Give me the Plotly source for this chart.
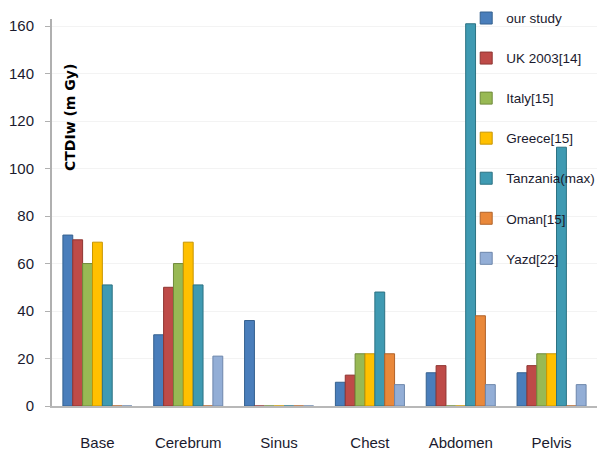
import plotly.graph_objects as go

categories = ["Base", "Cerebrum", "Sinus", "Chest", "Abdomen", "Pelvis"]

our_study = [72, 30, 36, 10, 14, 14]
uk_2003 = [70, 50, 0, 13, 17, 17]
italy = [60, 60, 0, 22, 0, 22]
greece = [69, 69, 0, 22, 0, 22]
tanzania_max = [51, 51, 0, 48, 161, 109]
oman = [0, 0, 0, 22, 38, 0]
yazd = [0, 21, 0, 9, 9, 9]

series = [
    ("our study", our_study, "#4A7EBB", "#35618f"),
    ("UK 2003[14]", uk_2003, "#BE4B48", "#8f3532"),
    ("Italy[15]", italy, "#98B954", "#6f8a3a"),
    ("Greece[15]", greece, "#FFC000", "#c79500"),
    ("Tanzania(max)", tanzania_max, "#3F9AB2", "#2c7283"),
    ("Oman[15]", oman, "#E9883A", "#b0632a"),
    ("Yazd[22]", yazd, "#93AED6", "#6d86ab"),
]

y_ticks = [0, 20, 40, 60, 80, 100, 120, 140, 160]

fig = go.Figure()
for i, (name, vals, color, edge) in enumerate(series):
    fig.add_trace(go.Bar(
        x=categories, y=vals, name=name,
        marker=dict(color=color, line=dict(color=edge, width=1)),
        legendgroup=f"g{i}",
    ))

fig.update_layout(
    width=600, height=453,
    margin=dict(l=52, r=3, t=19, b=47, autoexpand=False),
    paper_bgcolor="white", plot_bgcolor="white",
    barmode="group", bargap=0.24, bargroupgap=0,
    font=dict(family="Liberation Sans", size=14, color="#1a1a2e"),
    showlegend=True,
    legend=dict(
        x=0.76, y=1.042, xanchor="left", yanchor="top",
        bgcolor="rgba(0,0,0,0)", tracegroupgap=19.5, maxheight=440,
        font=dict(family="Liberation Sans", size=13.5, color="#1a1a2e"),
        itemwidth=30,
    ),
    xaxis=dict(
        showgrid=False, showline=True, linecolor="#b8b8b8", linewidth=2,
        ticks="", ticklabelstandoff=22,
        tickfont=dict(family="Liberation Sans", size=15, color="#1a1a2e"),
    ),
    yaxis=dict(
        range=[0, 163], tickvals=y_ticks, showgrid=True, gridcolor="#f3f3f3",
        showline=True, linecolor="#b0b0b0", linewidth=2,
        ticks="outside", ticklen=5, tickcolor="#b0b0b0", ticklabelstandoff=8,
        tickfont=dict(family="Liberation Sans", size=15, color="#1a1a2e"),
        zeroline=False,
    ),
    annotations=[dict(
        text="<b>CTDIw (m Gy)</b>", xref="paper", yref="paper",
        x=(70 - 52) / 545, y=(406 - 118) / 387, textangle=-90,
        xanchor="center", yanchor="middle",
        showarrow=False, font=dict(family="DejaVu Sans", size=14, color="black"),
    )],
)

fig.write_html("out.html")
